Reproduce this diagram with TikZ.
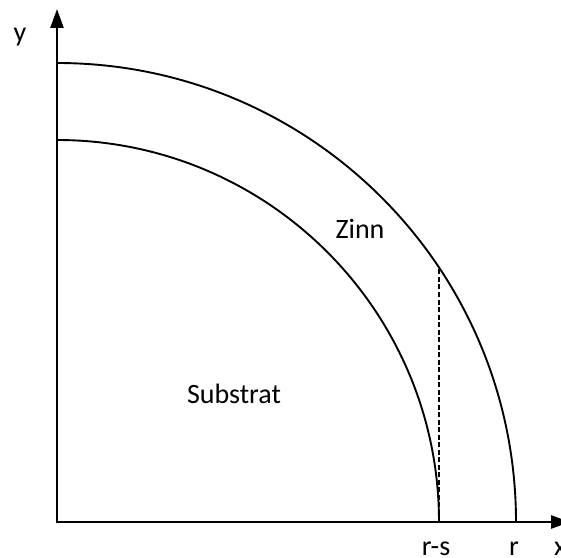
\documentclass[tikz,border=0pt]{standalone}
\usepackage{fontspec}
\setmainfont{Carlito}
\usetikzlibrary{arrows.meta}
\begin{document}
\begin{tikzpicture}[x=1pt,y=1pt,
  axis/.style={line width=2.6pt,-{Triangle[length=19pt,width=13pt]}},
  arcline/.style={line width=1.9pt},
  lbl/.style={font=\fontsize{28}{32}\selectfont,inner sep=0pt,anchor=base}]
\clip (0,0) rectangle (561,557);
\useasboundingbox (0,0) rectangle (561,557);
\coordinate (O) at (57,35);
\coordinate (xend) at (570,35);
\coordinate (yend) at (57,548);
\coordinate (inA) at (439,35);
\coordinate (outA) at (516,35);
\coordinate (dtop) at (439,289.5);
\draw[arcline] (inA) arc[start angle=0,end angle=90,radius=382];
\draw[arcline] (outA) arc[start angle=0,end angle=90,radius=459];
\draw[line width=1.6pt,dash pattern=on 5pt off 2.5pt] (inA) -- (dtop);
\draw[axis] ([xshift=-1.3pt]O) -- (xend);
\draw[axis] ([yshift=-1.3pt]O) -- (yend);
\node[lbl] (zinn) at (360,318) {Zinn};
\node[lbl] (sub) at (234,154) {Substrat};
\node[lbl] (rs) at (436,1.5) {r-s};
\node[lbl] (r) at (514,1.5) {r};
\node[lbl,anchor=base west] (xl) at (554,1.5) {x};
\node[lbl] (yl) at (20,515) {y};
\end{tikzpicture}
\end{document}
